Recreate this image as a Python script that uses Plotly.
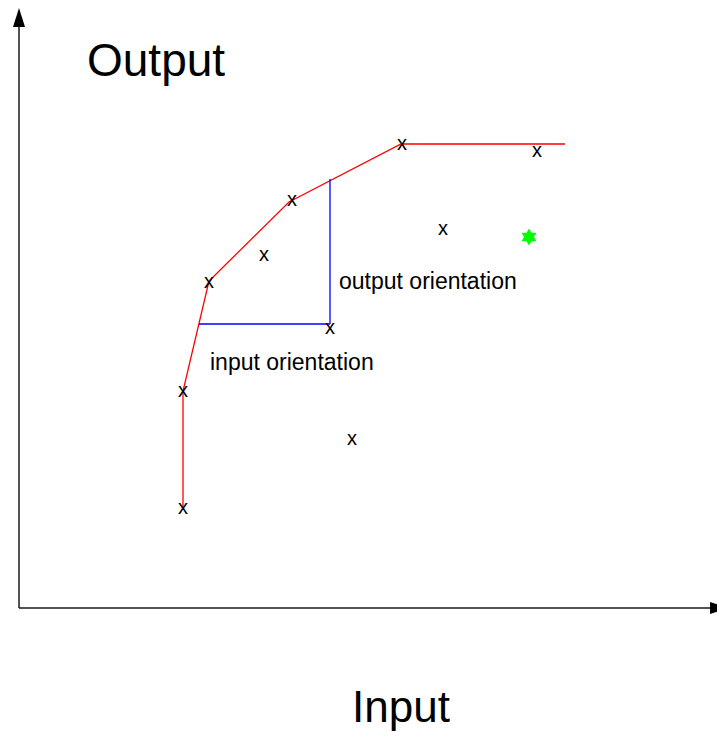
import plotly.graph_objects as go

# Data coordinates: origin at the axes corner, x to the right, y upward
# DMU observations (shown as "x")
dmu_x = [164, 164, 190, 273, 245, 383, 518, 424, 311, 333]
dmu_y = [99, 216, 325, 407, 352, 463, 456, 378, 279, 168]

# Efficient frontier (red)
frontier_x = [164, 164, 190, 270, 382, 546]
frontier_y = [101, 217, 327, 406, 464, 464]

# Input orientation projection (blue horizontal) and output orientation (blue vertical)
input_proj_x = [180, 311]
input_proj_y = [284, 284]
output_proj_x = [311, 311]
output_proj_y = [284, 429]

# Green star point
star_x = [510]
star_y = [371]

# Axes extents (arrow tips)
axis_x_end = 710
axis_y_end = 600

# arrowhead style
arrow_len = 19
arrow_half = 6

x_range = [-19, 698]
y_range = [-128, 608]

fig = go.Figure()

axis_color = "#1a1a1a"
# axis lines
fig.add_trace(go.Scatter(x=[0, 0], y=[0, axis_y_end - arrow_len], mode="lines",
                         line=dict(color=axis_color, width=1.5), hoverinfo="skip"))
fig.add_trace(go.Scatter(x=[0, axis_x_end - arrow_len], y=[0, 0], mode="lines",
                         line=dict(color=axis_color, width=1.5), hoverinfo="skip"))

# frontier
fig.add_trace(go.Scatter(x=frontier_x, y=frontier_y, mode="lines",
                         line=dict(color="#ff0000", width=1.3), hoverinfo="skip"))
# blue projections
fig.add_trace(go.Scatter(x=input_proj_x, y=input_proj_y, mode="lines",
                         line=dict(color="#0000ff", width=1.3), hoverinfo="skip"))
fig.add_trace(go.Scatter(x=output_proj_x, y=output_proj_y, mode="lines",
                         line=dict(color="#0000ff", width=1.3), hoverinfo="skip"))

# DMUs as "x" text
fig.add_trace(go.Scatter(x=dmu_x, y=dmu_y, mode="text", text=["x"] * len(dmu_x),
                         textposition="middle center",
                         textfont=dict(family="Liberation Sans, Arial", size=20, color="black"),
                         hoverinfo="skip"))
# green star
fig.add_trace(go.Scatter(x=star_x, y=star_y, mode="markers",
                         marker=dict(symbol="hexagram", size=13, color="#00ff00",
                                     line=dict(width=0)),
                         hoverinfo="skip"))

# arrowheads as shapes
yb = axis_y_end - arrow_len
xb = axis_x_end - arrow_len
shapes = [
    dict(type="path", xref="x", yref="y",
         path=f"M {-arrow_half},{yb} L {arrow_half},{yb} L 0,{axis_y_end} Z",
         fillcolor="black", line=dict(width=0)),
    dict(type="path", xref="x", yref="y",
         path=f"M {xb},{-arrow_half} L {xb},{arrow_half} L {axis_x_end},0 Z",
         fillcolor="black", line=dict(width=0)),
]

font_main = "Liberation Sans, Arial"
annotations = [
    dict(x=66, y=548, text="Output", xanchor="left", yanchor="middle",
         font=dict(family=font_main, size=46, color="black")),
    dict(x=331, y=-98, text="Input", xanchor="left", yanchor="middle",
         font=dict(family=font_main, size=44, color="black")),
    dict(x=318, y=327, text="output orientation", xanchor="left", yanchor="middle",
         font=dict(family=font_main, size=23, color="black")),
    dict(x=189, y=246, text="input orientation", xanchor="left", yanchor="middle",
         font=dict(family=font_main, size=23, color="black")),
]
for a in annotations:
    a.update(showarrow=False, xref="x", yref="y")

fig.update_layout(
    width=717, height=736,
    margin=dict(l=0, r=0, t=0, b=0),
    paper_bgcolor="white", plot_bgcolor="white",
    showlegend=False,
    hovermode=False,
    annotations=annotations,
    shapes=shapes,
    xaxis=dict(range=x_range, visible=False, fixedrange=True),
    yaxis=dict(range=y_range, visible=False, fixedrange=True),
)

fig.write_html(
    "out.html",
    config={"displayModeBar": False, "staticPlot": True},
    post_script="document.body.style.margin='0';document.body.style.overflow='hidden';",
)
